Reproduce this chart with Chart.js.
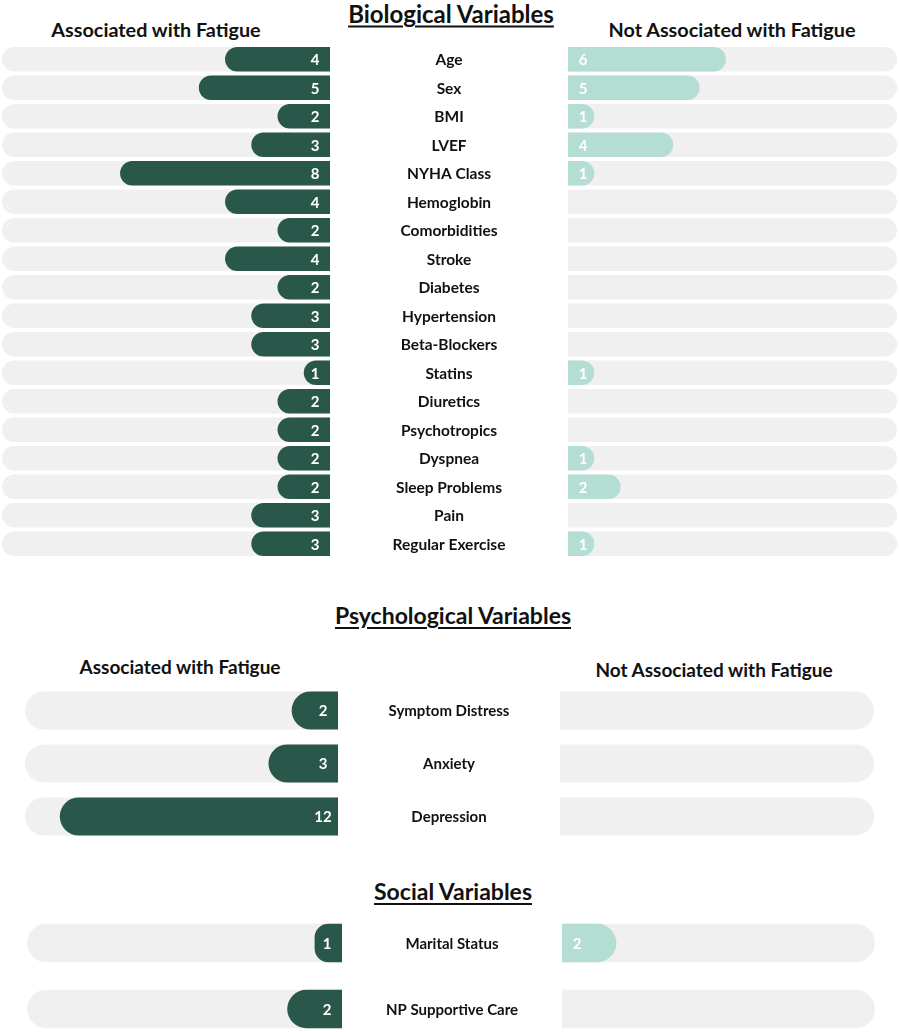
<!DOCTYPE html>
<html>
<head>
<meta charset="utf-8">
<script src="https://cdn.jsdelivr.net/npm/chart.js@4"></script>
<style>
  body { margin: 0; background: #fff; font-family: Lato, 'Open Sans', sans-serif; overflow: hidden; }
  #page { position: relative; width: 899px; height: 1032px; }
  .box { position: absolute; }
  .head { position: absolute; font-weight: bold; color: #111; white-space: nowrap; transform: translate(-50%, -50%); }
  .title { font-size: 23px; text-decoration: underline; text-underline-offset: 3px; }
  .sub { font-size: 19px; }
</style>
</head>
<body>
<div id="page">
  <div class="head title" style="left:451px; top:13px; font-size:24px;">Biological Variables</div>
  <div class="head sub" style="left:156px; top:29px; font-size:19.8px;">Associated with Fatigue</div>
  <div class="head sub" style="left:732px; top:29px; font-size:19.8px;">Not Associated with Fatigue</div>

  <div class="head title" style="left:453px; top:615px;">Psychological Variables</div>
  <div class="head sub" style="left:180px; top:666px;">Associated with Fatigue</div>
  <div class="head sub" style="left:714px; top:669px;">Not Associated with Fatigue</div>

  <div class="head title" style="left:453px; top:891px;">Social Variables</div>

  <div class="box" style="left:2px; top:45px; width:566px; height:513px;"><canvas id="bioLeft"></canvas></div>
  <div class="box" style="left:568px; top:45px; width:329px; height:513px;"><canvas id="bioRight"></canvas></div>

  <div class="box" style="left:25px; top:684px; width:535px; height:159px;"><canvas id="psychLeft"></canvas></div>
  <div class="box" style="left:560px; top:684px; width:314px; height:159px;"><canvas id="psychRight"></canvas></div>

  <div class="box" style="left:27px; top:910px; width:535px; height:132px;"><canvas id="socialLeft"></canvas></div>
  <div class="box" style="left:562px; top:910px; width:313px; height:132px;"><canvas id="socialRight"></canvas></div>
</div>
<script>
// Biological variables
const bioCategories = ['Age', 'Sex', 'BMI', 'LVEF', 'NYHA Class', 'Hemoglobin', 'Comorbidities', 'Stroke',
    'Diabetes', 'Hypertension', 'Beta-Blockers', 'Statins', 'Diuretics', 'Psychotropics', 'Dyspnea',
    'Sleep Problems', 'Pain', 'Regular Exercise'];
const bioAssociated = [4, 5, 2, 3, 8, 4, 2, 4, 2, 3, 3, 1, 2, 2, 2, 2, 3, 3];
const bioNotAssociated = [6, 5, 1, 4, 1, 0, 0, 0, 0, 0, 0, 1, 0, 0, 1, 2, 0, 1];

// Psychological variables
const psychCategories = ['Symptom Distress', 'Anxiety', 'Depression'];
const psychAssociated = [2, 3, 12];
const psychNotAssociated = [0, 0, 0];

// Social variables
const socialCategories = ['Marital Status', 'NP Supportive Care'];
const socialAssociated = [1, 2];
const socialNotAssociated = [2, 0];

const DARK = '#29584b';
const LIGHT = '#b4ddd3';
const TRACK = '#f0f0f0';

// numbers inside the bars, near the base
const valueLabels = {
    id: 'valueLabels',
    afterDatasetsDraw(chart) {
        const ctx = chart.ctx;
        const meta = chart.getDatasetMeta(0);
        const data = chart.data.datasets[0].data;
        const size = chart.options.plugins.valueLabels.size;
        ctx.save();
        ctx.fillStyle = '#ffffff';
        ctx.font = 'bold ' + size + 'px Lato, sans-serif';
        ctx.textAlign = 'center';
        ctx.textBaseline = 'middle';
        meta.data.forEach(function(el, i) {
            if (!data[i]) return;
            const dir = el.x < el.base ? -1 : 1;
            ctx.fillText(String(data[i]), el.base + dir * 15, el.y + 1);
        });
        ctx.restore();
    }
};

// category names in the gap between the two sides
const centerLabels = {
    id: 'centerLabels',
    afterDraw(chart) {
        const opts = chart.options.plugins.centerLabels;
        if (!opts || !opts.show) return;
        const ctx = chart.ctx;
        const yScale = chart.scales.y;
        const x = (chart.chartArea.right + chart.width) / 2;
        ctx.save();
        ctx.fillStyle = '#111';
        ctx.font = 'bold ' + opts.size + 'px Lato, sans-serif';
        ctx.textAlign = 'center';
        ctx.textBaseline = 'middle';
        chart.data.labels.forEach(function(label, i) {
            ctx.fillText(label, x, yScale.getPixelForValue(i) + 1);
        });
        ctx.restore();
    }
};

function makeSide(id, labels, values, color, opts) {
    new Chart(document.getElementById(id), {
        type: 'bar',
        data: {
            labels: labels,
            datasets: [
                {
                    data: values.map(v => v || null),
                    backgroundColor: color,
                    borderRadius: 40,
                    order: 1
                },
                {
                    data: labels.map(() => opts.max),
                    backgroundColor: TRACK,
                    borderRadius: 40,
                    order: 2
                }
            ]
        },
        options: {
            indexAxis: 'y',
            responsive: true,
            maintainAspectRatio: false,
            animation: false,
            layout: { padding: { right: opts.padRight || 0 } },
            datasets: {
                bar: {
                    grouped: false,
                    categoryPercentage: 1,
                    barPercentage: opts.barPct
                }
            },
            plugins: {
                legend: { display: false },
                tooltip: { enabled: false },
                valueLabels: { size: opts.numSize },
                centerLabels: { show: !!opts.padRight, size: opts.labelSize }
            },
            scales: {
                x: { display: false, min: 0, max: opts.max, reverse: !!opts.reverse },
                y: { display: false }
            }
        },
        plugins: [valueLabels, centerLabels]
    });
}

makeSide('bioLeft', bioCategories, bioAssociated, DARK,
    { max: 12.5, reverse: true, padRight: 238, barPct: 0.86, numSize: 15, labelSize: 15.5 });
makeSide('bioRight', bioCategories, bioNotAssociated, LIGHT,
    { max: 12.5, barPct: 0.86, numSize: 15 });

makeSide('psychLeft', psychCategories, psychAssociated, DARK,
    { max: 13.5, reverse: true, padRight: 222, barPct: 0.72, numSize: 15, labelSize: 15 });
makeSide('psychRight', psychCategories, psychNotAssociated, LIGHT,
    { max: 13.5, barPct: 0.72, numSize: 15 });

makeSide('socialLeft', socialCategories, socialAssociated, DARK,
    { max: 11.5, reverse: true, padRight: 220, barPct: 0.58, numSize: 15, labelSize: 15 });
makeSide('socialRight', socialCategories, socialNotAssociated, LIGHT,
    { max: 11.5, barPct: 0.58, numSize: 15 });
</script>
</body>
</html>
